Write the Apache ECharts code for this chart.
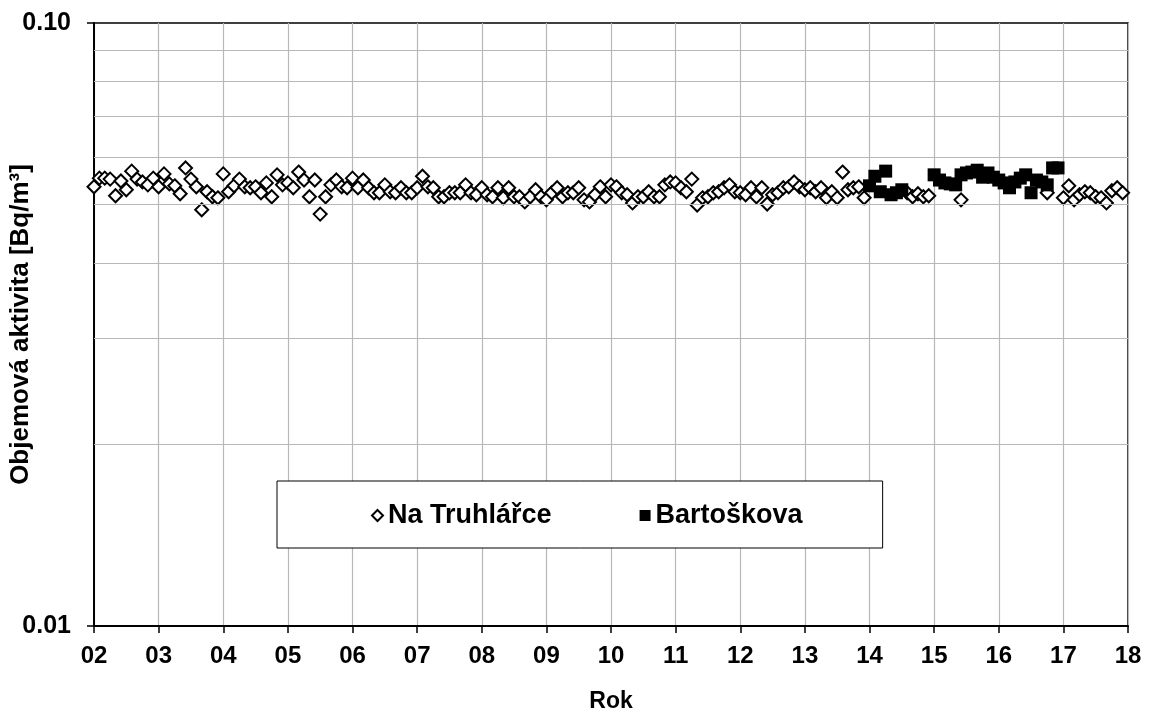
<!DOCTYPE html>
<html>
<head>
<meta charset="utf-8">
<script src="https://cdn.jsdelivr.net/npm/echarts@6/dist/echarts.min.js"></script>
<style>
  html, body { margin: 0; padding: 0; background: #fff; }
  #chart { width: 1150px; height: 715px; }
</style>
</head>
<body>
<div id="chart"></div>
<script>
// Monthly radon volume activity [Bq/m3], series start January 2002; null = no point shown
const startYear = 2002;
const naTruhlarce = [
  // 2002
  0.0535, 0.0553, 0.0553, 0.0551, 0.0517, 0.0547, 0.0529, 0.0568, 0.0551, 0.0545, 0.0539, 0.0553,
  // 2003
  0.0535, 0.0562, 0.0541, 0.0537, 0.0521, 0.0575, 0.0551, 0.0535, 0.0490, 0.0525, 0.0515, 0.0513,
  // 2004
  0.0562, 0.0525, 0.0537, 0.0551, 0.0535, 0.0533, 0.0535, 0.0523, 0.0543, 0.0515, 0.0560, 0.0539,
  // 2005
  0.0543, 0.0533, 0.0566, 0.0549, 0.0515, 0.0549, 0.0482, 0.0515, 0.0539, 0.0549, 0.0535, 0.0533,
  // 2006
  0.0553, 0.0533, 0.0549, 0.0533, 0.0523, 0.0523, 0.0539, 0.0525, 0.0523, 0.0533, 0.0523, 0.0523,
  // 2007
  0.0533, 0.0557, 0.0535, 0.0533, 0.0515, 0.0515, 0.0523, 0.0523, 0.0523, 0.0539, 0.0523, 0.0519,
  // 2008
  0.0533, 0.0519, 0.0515, 0.0533, 0.0513, 0.0533, 0.0515, 0.0515, 0.0505, 0.0515, 0.0529, 0.0515,
  // 2009
  0.0509, 0.0523, 0.0533, 0.0515, 0.0523, 0.0523, 0.0533, 0.0509, 0.0505, 0.0519, 0.0535, 0.0515,
  // 2010
  0.0539, 0.0535, 0.0523, 0.0519, 0.0503, 0.0515, 0.0515, 0.0525, 0.0515, 0.0515, 0.0539, 0.0545,
  // 2011
  0.0543, 0.0533, 0.0525, 0.0551, 0.0499, 0.0513, 0.0515, 0.0523, 0.0525, 0.0533, 0.0539, 0.0525,
  // 2012
  0.0523, 0.0519, 0.0533, 0.0515, 0.0533, 0.0501, 0.0519, 0.0523, 0.0533, 0.0535, 0.0545, 0.0535,
  // 2013
  0.0529, 0.0533, 0.0525, 0.0533, 0.0513, 0.0525, 0.0513, 0.0566, 0.0529, 0.0533, 0.0535, 0.0513,
  // 2014
  null, null, null, null, null, null, null, 0.0523, 0.0515, 0.0521, 0.0515, 0.0517,
  // 2015
  null, null, null, null, null, 0.0509, null, null, null, null, null, null,
  // 2016
  null, null, null, null, null, null, null, null, null, 0.0523, null, null,
  // 2017
  0.0513, 0.0537, 0.0509, 0.0519, 0.0525, 0.0523, 0.0515, 0.0513, 0.0503, 0.0527, 0.0533, 0.0523
];
const bartoskova = [
  // 2002 - 2013: no measurement
  ...new Array(144).fill(null),
  // 2014
  0.0537, 0.0557, 0.0525, 0.0568, 0.0519, 0.0523, 0.0529, null, null, null, null, null,
  // 2015
  0.0560, 0.0549, 0.0543, 0.0541, 0.0539, 0.0560, 0.0564, 0.0566, 0.0570, 0.0555, 0.0564, 0.0555,
  // 2016
  0.0549, 0.0543, 0.0533, 0.0545, 0.0553, 0.0560, 0.0523, 0.0549, 0.0545, 0.0539, 0.0575, 0.0575
];
const seriesNames = ['Na Truhlářce', 'Bartoškova'];
const yearMin = 2002, yearMax = 2018;
const yGridValues = [0.02, 0.03, 0.04, 0.05, 0.06, 0.07, 0.08, 0.09];

function toPoints(values) {
  const pts = [];
  values.forEach((v, i) => {
    if (v !== null) pts.push([startYear + i / 12, v]);
  });
  return pts;
}

const FONT = '"Liberation Sans", Arial, sans-serif';
const chart = echarts.init(document.getElementById('chart'), null, { renderer: 'canvas' });

chart.setOption({
  animation: false,
  backgroundColor: '#fff',
  grid: {
    left: 94, right: 22, top: 23, bottom: 89,
    outerBoundsMode: 'none',
    containLabel: false,
    show: true, borderColor: '#000', borderWidth: 1.5, backgroundColor: 'transparent'
  },
  legend: {
    data: seriesNames,
    left: 277, top: 481,
    orient: 'horizontal',
    padding: [21, 80, 19, 94],
    itemGap: 88,
    itemWidth: 11, itemHeight: 11,
    backgroundColor: '#fff',
    borderColor: '#000', borderWidth: 1,
    textStyle: { fontFamily: FONT, fontSize: 27, fontWeight: 'bold', color: '#000' }
  },
  xAxis: {
    type: 'value',
    min: yearMin, max: yearMax, interval: 1,
    name: 'Rok',
    nameLocation: 'middle',
    nameGap: 64,
    nameMoveOverlap: false,
    nameTextStyle: { fontFamily: FONT, fontSize: 23, fontWeight: 'bold', color: '#000' },
    axisLine: { onZero: false, lineStyle: { color: '#000', width: 2 } },
    axisTick: { show: true, length: 7, lineStyle: { color: '#000', width: 1.5 } },
    axisLabel: {
      margin: 18,
      fontFamily: FONT, fontSize: 24, fontWeight: 'bold', color: '#000',
      formatter: v => String(Math.round(v) % 100).padStart(2, '0')
    },
    splitLine: { show: true, lineStyle: { color: '#b8b8b8', width: 1.2 } }
  },
  yAxis: {
    type: 'log',
    logBase: 10,
    min: 0.01, max: 0.1,
    name: 'Objemová aktivita [Bq/m³]',
    nameLocation: 'middle',
    nameRotate: 90,
    nameGap: 60,
    nameMoveOverlap: false,
    nameTextStyle: { fontFamily: FONT, fontSize: 26, fontWeight: 'bold', color: '#000' },
    axisLine: { show: true, lineStyle: { color: '#000', width: 2 } },
    axisTick: { show: true, length: 7, lineStyle: { color: '#000', width: 1.5 } },
    axisLabel: {
      margin: 23,
      fontFamily: FONT, fontSize: 25, fontWeight: 'bold', color: '#000',
      formatter: v => Number(v).toFixed(2)
    },
    splitLine: { show: false }
  },
  series: [
    {
      // intermediate horizontal gridlines of the log axis
      type: 'scatter',
      name: 'grid',
      data: [],
      z: 1,
      silent: true,
      markLine: {
        silent: true,
        symbol: 'none',
        label: { show: false },
        lineStyle: { color: '#b8b8b8', width: 1.2, type: 'solid' },
        data: yGridValues.map(v => ({ yAxis: v }))
      }
    },
    {
      name: seriesNames[0],
      type: 'scatter',
      z: 3,
      symbol: 'diamond',
      symbolSize: 13,
      itemStyle: { color: '#fff', borderColor: '#000', borderWidth: 2, opacity: 1 },
      data: toPoints(naTruhlarce)
    },
    {
      name: seriesNames[1],
      type: 'scatter',
      z: 4,
      symbol: 'rect',
      symbolSize: 13,
      itemStyle: { color: '#000', opacity: 1 },
      data: toPoints(bartoskova)
    }
  ]
});
</script>
</body>
</html>
